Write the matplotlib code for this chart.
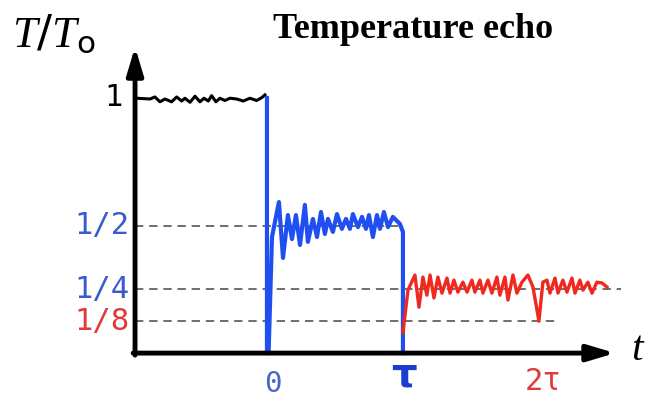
import numpy as np
import matplotlib
matplotlib.use('Agg')
import matplotlib.pyplot as plt

plt.rcParams['mathtext.fontset'] = 'custom'
plt.rcParams['mathtext.it'] = 'Liberation Serif:italic'
plt.rcParams['mathtext.rm'] = 'DejaVu Sans'

# 数据 (时间以 tau 为单位, 温度以 T0 为单位)
black_t = [-0.97, -0.958, -0.860, -0.824, -0.787, -0.750, -0.701, -0.664, -0.627, -0.603,
           -0.566, -0.529, -0.493, -0.463, -0.431, -0.407, -0.375, -0.346, -0.309, -0.272,
           -0.223, -0.174, -0.125, -0.076, -0.039, -0.015]
black_v = [0.999, 0.999, 0.996, 1.004, 0.985, 0.996, 0.985, 1.004, 0.988, 0.999,
           0.983, 1.007, 0.985, 0.999, 0.988, 1.009, 0.985, 0.999, 0.990, 0.999,
           0.996, 0.988, 0.999, 0.990, 1.001, 1.012]

blue_t = [0.0, 0.0, 0.012, 0.037, 0.088, 0.118, 0.154, 0.184, 0.213, 0.243, 0.279, 0.301,
          0.338, 0.368, 0.397, 0.426, 0.449, 0.485, 0.515, 0.551, 0.581, 0.610,
          0.632, 0.669, 0.699, 0.728, 0.750, 0.779, 0.809, 0.831, 0.860, 0.890,
          0.926, 0.978, 1.0, 1.0]
blue_v = [1.0, 0.0, 0.0, 0.455, 0.592, 0.373, 0.541, 0.447, 0.541, 0.424, 0.581, 0.436,
          0.526, 0.455, 0.553, 0.467, 0.526, 0.475, 0.545, 0.487, 0.526, 0.487,
          0.545, 0.494, 0.534, 0.487, 0.541, 0.455, 0.541, 0.487, 0.553, 0.494,
          0.534, 0.506, 0.475, 0.0]

red_t = [1.0, 1.037, 1.088, 1.118, 1.147, 1.176, 1.199, 1.228, 1.257, 1.287, 1.324,
         1.346, 1.375, 1.404, 1.441, 1.471, 1.507, 1.529, 1.566, 1.588, 1.625, 1.654,
         1.691, 1.713, 1.750, 1.772, 1.809, 1.838, 1.875, 1.919, 1.956, 2.0, 2.029,
         2.059, 2.081, 2.118, 2.140, 2.176, 2.206, 2.243, 2.265, 2.301, 2.324, 2.360,
         2.390, 2.426, 2.463, 2.5]
red_v = [0.08, 0.247, 0.306, 0.180, 0.298, 0.227, 0.306, 0.216, 0.298, 0.235, 0.294,
         0.235, 0.286, 0.239, 0.278, 0.239, 0.286, 0.239, 0.286, 0.235, 0.286, 0.235,
         0.298, 0.227, 0.298, 0.208, 0.306, 0.235, 0.278, 0.306, 0.259, 0.125, 0.278,
         0.286, 0.235, 0.294, 0.235, 0.286, 0.239, 0.294, 0.235, 0.286, 0.247, 0.278,
         0.235, 0.278, 0.275, 0.259]

# 参考线和刻度
levels = [0.5, 0.25, 0.125]
level_ends = [0.98, 2.6, 2.12]
ytick_vals = [1, 0.5, 0.25, 0.125]
ytick_labels = ['1', '1/2', '1/4', '1/8']
ytick_colors = ['black', '#3a5bd0', '#3a5bd0', '#e03a3a']
xtick_vals = [0, 1, 2]
xtick_labels = ['0', 'τ', '2τ']

x0 = -0.97  # 纵轴位置

fig = plt.figure(figsize=(6.51, 3.98), dpi=100)
ax = fig.add_axes([0, 0, 1, 1])
ax.set_xlim(-1.963, 2.824)
ax.set_ylim(-0.176, 1.384)
ax.axis('off')

for lv, le in zip(levels, level_ends):
    ax.plot([x0, le], [lv, lv], color='#555555', lw=1.2, linestyle=(0, (5, 3.5)), zorder=1)

ax.plot(black_t, black_v, color='black', lw=2.2, zorder=3, solid_joinstyle='round')
ax.plot(blue_t, blue_v, color='#1f4ff0', lw=3.0, zorder=3, solid_joinstyle='round')
ax.plot(red_t, red_v, color='#f0281e', lw=2.4, zorder=4, solid_joinstyle='round')

# 坐标轴箭头
arrow = dict(arrowstyle='-|>,head_length=1.1,head_width=0.33', lw=3.5, color='black',
             mutation_scale=15, shrinkA=0, shrinkB=0)
ax.annotate('', xy=(x0, 1.20), xytext=(x0, -0.008), arrowprops=arrow, zorder=5)
ax.annotate('', xy=(2.56, 0), xytext=(x0 - 0.014, 0), arrowprops=arrow, zorder=5)

label_pad = [0.09, 0.04, 0.04, 0.04]
for v, lab, c, p in zip(ytick_vals, ytick_labels, ytick_colors, label_pad):
    ax.text(x0 - p, v, lab, color=c, ha='right', va='center',
            family='DejaVu Sans Mono', fontsize=22)

ax.text(xtick_vals[0] + 0.04, -0.12, xtick_labels[0], color='#4a66cc', ha='center', va='center',
        family='DejaVu Sans Mono', fontsize=21)
ax.text(xtick_vals[1] + 0.01, -0.168, xtick_labels[1], color='#1a3fd0', ha='center', va='bottom',
        family='DejaVu Sans', fontweight='bold', fontsize=29)
ax.text(xtick_vals[2] + 0.03, -0.11, xtick_labels[2], color='#e03a3a', ha='center', va='center',
        family='DejaVu Sans Mono', fontsize=22)

ax.text(-1.57, 1.25, r'$T/T_\mathrm{o}$', fontsize=32, ha='center', va='center')
ax.text(2.73, 0.02, r'$t$', fontsize=30, ha='center', va='center')
ax.text(1.075, 1.27, 'Temperature echo', family='Liberation Serif', fontweight='bold',
        fontsize=26, ha='center', va='center')

fig.savefig('out.png', dpi=100)
